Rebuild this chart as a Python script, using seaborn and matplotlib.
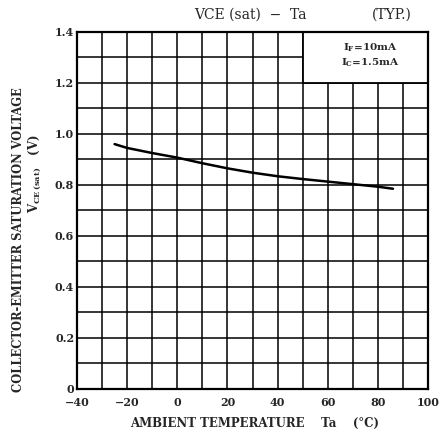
import matplotlib
matplotlib.use('Agg')
import matplotlib.pyplot as plt
import seaborn as sns
import pandas as pd
from matplotlib.patches import Rectangle

# Данные кривой VCE(sat) - Ta
temperature = [-25, -20, -10, 0, 10, 20, 30, 40, 50, 60, 70, 80, 86]
vce_sat = [0.96, 0.945, 0.925, 0.907, 0.885, 0.865, 0.848, 0.834, 0.823, 0.813, 0.803, 0.793, 0.785]
x_ticks = [-40, -20, 0, 20, 40, 60, 80, 100]
x_labels = ['\u221240', '\u221220', '0', '20', '40', '60', '80', '100']
y_labels = ['0', '0.2', '0.4', '0.6', '0.8', '1.0', '1.2', '1.4']

df = pd.DataFrame({'Ta': temperature, 'VCE': vce_sat})

sns.set_style('white')
plt.rcParams['font.family'] = ['DejaVu Serif']
plt.rcParams['mathtext.fontset'] = 'dejavuserif'

fig = plt.figure(figsize=(4.45, 4.43), dpi=100)
ax = fig.add_axes([0.173, 0.122, 0.789, 0.806])

sns.lineplot(data=df, x='Ta', y='VCE', color='black', linewidth=1.8, ax=ax, zorder=3)

ax.set_xlim(-40, 100)
ax.set_ylim(0, 1.4)
ax.set_xticks(range(-40, 101, 10))
ax.set_yticks([i / 10 for i in range(15)])
ax.grid(True, color='black', linewidth=1.1)
ax.set_axisbelow(True)

# подписи только на основных делениях
ax.set_xticklabels([x_labels[x_ticks.index(v)] if v in x_ticks else '' for v in range(-40, 101, 10)],
                   fontsize=8, fontweight='bold')
ax.set_yticklabels([y_labels[i // 2] if i % 2 == 0 else '' for i in range(15)],
                   fontsize=8, fontweight='bold')
ax.tick_params(axis='x', length=0, pad=6)
ax.tick_params(axis='y', length=0, pad=2)
ax.set_xlabel('')
ax.set_ylabel('')
for s in ax.spines.values():
    s.set_color('black')
    s.set_linewidth(1.6)
    s.set_zorder(5)

# белая рамка с условиями
ax.add_patch(Rectangle((50, 1.2), 50, 0.2, facecolor='white', edgecolor='black',
                       linewidth=1.3, zorder=2))
ax.text(77, 1.337, r'I$_\mathregular{F}$=10mA', ha='center', va='center', fontsize=7.5, fontweight='bold')
ax.text(77, 1.278, r'I$_\mathregular{C}$=1.5mA', ha='center', va='center', fontsize=7.5, fontweight='bold')

# заголовок и подписи осей
fig.text(0.562, 0.966, 'VCE (sat)  \u2212  Ta', ha='center', va='center', fontsize=10)
fig.text(0.88, 0.966, '(TYP.)', ha='center', va='center', fontsize=10)
fig.text(0.573, 0.045, 'AMBIENT TEMPERATURE    Ta    (\u00b0C)', ha='center', va='center',
         fontsize=8.5, fontweight='bold')
fig.text(0.042, 0.46, 'COLLECTOR-EMITTER SATURATION VOLTAGE', rotation=90,
         ha='center', va='center', fontsize=8.3, fontweight='bold')
fig.text(0.078, 0.607, r'V$_\mathregular{CE\,(sat)}$   (V)', rotation=90,
         ha='center', va='center', fontsize=8.5, fontweight='bold')

fig.savefig('out.png', dpi=100, facecolor='white')
